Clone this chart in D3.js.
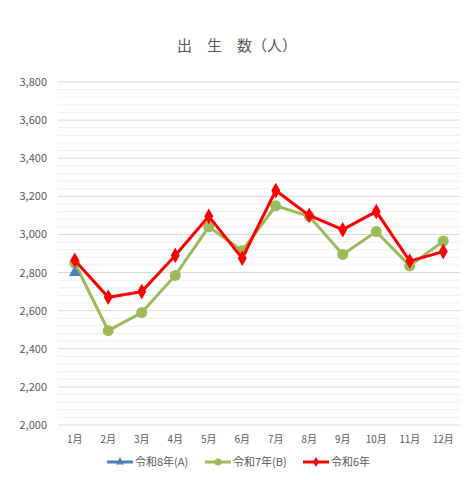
<!DOCTYPE html><html><head><meta charset="utf-8"><script src="https://cdn.jsdelivr.net/npm/d3@7"></script>
<style>body{margin:0;background:#fff}text{font-family:"Noto Sans CJK JP",sans-serif}</style></head><body><svg id="c" width="474" height="480"></svg><script>
const months=["1月","2月","3月","4月","5月","6月","7月","8月","9月","10月","11月","12月"];
const seriesA=[2800];
const seriesB=[2850,2495,2590,2785,3040,2915,3150,3095,2895,3015,2835,2965];
const seriesC=[2865,2670,2700,2890,3095,2875,3230,3100,3025,3120,2860,2910];
const yTicks=[2000,2200,2400,2600,2800,3000,3200,3400,3600,3800];
const svg=d3.select("#c");
const x=d3.scaleBand().domain(months).range([58,460]);
const y=d3.scaleLinear().domain([2000,3800]).range([425,82]);
const cx=m=>x(m)+x.bandwidth()/2;
for(let v=2000;v<=3800;v+=40){svg.append("line").attr("x1",58).attr("x2",460).attr("y1",y(v)).attr("y2",y(v)).attr("stroke",v%200===0?"#d9d9d9":"#efefef").attr("stroke-width",1);}
svg.selectAll(".yt").data(yTicks).join("text").attr("x",47).attr("y",d=>y(d)+4).attr("text-anchor","end").attr("font-size",11).attr("fill","#595959").text(d=>d3.format(",")(d));
svg.selectAll(".xt").data(months).join("text").attr("x",cx).attr("y",443).attr("text-anchor","middle").attr("font-size",10).attr("fill","#595959").text(d=>d);
svg.append("text").attr("x",237).attr("y",51).attr("text-anchor","middle").attr("font-size",15).attr("fill","#595959").text("出　生　数（人）");
const line=d3.line().x((d,i)=>cx(months[i])).y(d=>y(d));
svg.append("path").attr("d",line(seriesB)).attr("fill","none").attr("stroke","#9bbb59").attr("stroke-width",3);
svg.selectAll(".b").data(seriesB).join("circle").attr("cx",(d,i)=>cx(months[i])).attr("cy",d=>y(d)).attr("r",5.5).attr("fill","#9bbb59");
svg.append("path").attr("d",line(seriesC)).attr("fill","none").attr("stroke","#ff0000").attr("stroke-width",3);
const dia=d3.symbol().type(d3.symbolDiamond).size(70);
svg.selectAll(".c").data(seriesC).join("path").attr("d",dia).attr("transform",(d,i)=>`translate(${cx(months[i])},${y(d)})`).attr("fill","#ff0000");
const tri=d3.symbol().type(d3.symbolTriangle).size(60);
svg.selectAll(".a").data(seriesA).join("path").attr("d",tri).attr("transform",(d,i)=>`translate(${cx(months[i])},${y(d)})`).attr("fill","#4f81bd");
const leg=[{n:"令和8年(A)",c:"#4f81bd",s:tri,x:107},{n:"令和7年(B)",c:"#9bbb59",s:null,x:205},{n:"令和6年",c:"#ff0000",s:dia,x:303}];
leg.forEach(l=>{const g=svg.append("g");g.append("line").attr("x1",l.x).attr("x2",l.x+26).attr("y1",462).attr("y2",462).attr("stroke",l.c).attr("stroke-width",3);
if(l.s)g.append("path").attr("d",d3.symbol().type(l.s===tri?d3.symbolTriangle:d3.symbolDiamond).size(30)).attr("transform",`translate(${l.x+13},462)`).attr("fill",l.c);
else g.append("circle").attr("cx",l.x+13).attr("cy",462).attr("r",3.5).attr("fill",l.c);
g.append("text").attr("x",l.x+28).attr("y",466).attr("font-size",11).attr("fill","#595959").text(l.n);});
</script></body></html>
